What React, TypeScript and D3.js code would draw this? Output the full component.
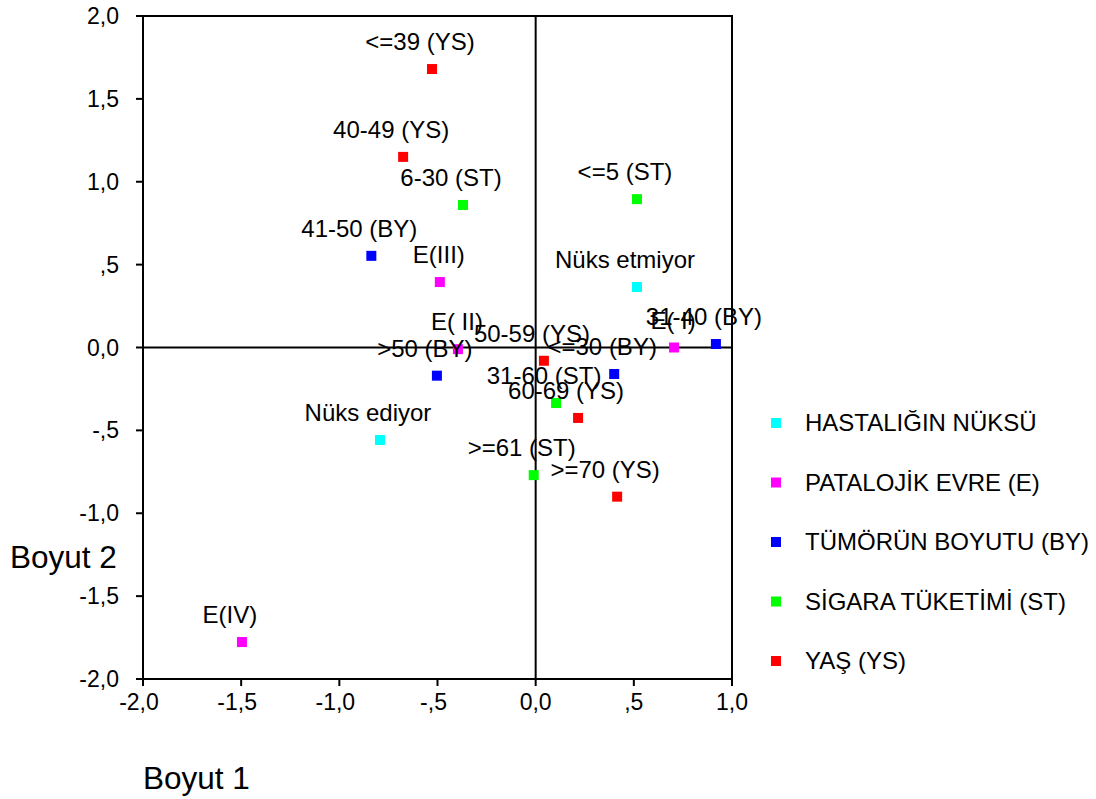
import { useEffect, useRef } from 'react'
import * as d3 from 'd3'

// gruplar (lejant)
const groups = ['HASTALIĞIN NÜKSÜ', 'PATALOJİK EVRE (E)', 'TÜMÖRÜN BOYUTU (BY)', 'SİGARA TÜKETİMİ (ST)', 'YAŞ (YS)']
const groupColors = ['#00ffff', '#ff00ff', '#0000ff', '#00ff00', '#ff0000']

// noktalar
const pointLabels = [
  'Nüks etmiyor', 'Nüks ediyor',
  'E( I)', 'E( II)', 'E(III)', 'E(IV)',
  '31-40 (BY)', '41-50 (BY)', '>50 (BY)', '<=30 (BY)',
  '<=5 (ST)', '6-30 (ST)', '31-60 (ST)', '>=61 (ST)',
  '<=39 (YS)', '40-49 (YS)', '50-59 (YS)', '60-69 (YS)', '>=70 (YS)'
]
const pointGroup = [0, 0, 1, 1, 1, 1, 2, 2, 2, 2, 3, 3, 3, 3, 4, 4, 4, 4, 4]
const dim1 = [0.516, -0.793, 0.705, -0.396, -0.488, -1.496, 0.918, -0.837, -0.503, 0.40, 0.516, -0.37, 0.104, -0.01, -0.528, -0.675, 0.042, 0.216, 0.415]
const dim2 = [0.365, -0.558, 0.0, -0.01, 0.395, -1.777, 0.021, 0.553, -0.17, -0.16, 0.895, 0.86, -0.335, -0.77, 1.68, 1.15, -0.08, -0.425, -0.90]

const xTicks = [-2, -1.5, -1, -0.5, 0, 0.5, 1]
const yTicks = [-2, -1.5, -1, -0.5, 0, 0.5, 1, 1.5, 2]

// SPSS tarzı etiket: 0,5 -> ",5"
const fmt = (v: number) => {
  const s = Math.abs(v).toFixed(1).replace('.', ',')
  const t = Math.abs(v) < 1 && v !== 0 ? s.slice(1) : s
  return v < 0 ? '-' + t : t
}

// kısa evre etiketleri noktanın tam üstünde duruyor
const centeredLabels = ['E( I)', 'E( II)', 'E(III)']

export default function App() {
  const ref = useRef<SVGSVGElement>(null)

  useEffect(() => {
    const width = 1096
    const height = 799
    const plot = { left: 143, right: 732, top: 16, bottom: 679 }
    const font = 'Liberation Sans, Arial, sans-serif'

    const svg = d3.select(ref.current)
    svg.selectAll('*').remove()
    svg.attr('width', width).attr('height', height)
      .attr('font-family', font)

    const x = d3.scaleLinear().domain([-2, 1]).range([plot.left, plot.right])
    const y = d3.scaleLinear().domain([-2, 2]).range([plot.bottom, plot.top])

    // çerçeve
    svg.append('rect')
      .attr('x', plot.left).attr('y', plot.top)
      .attr('width', plot.right - plot.left).attr('height', plot.bottom - plot.top)
      .attr('fill', 'none').attr('stroke', '#000').attr('stroke-width', 2)

    // sıfır çizgileri
    svg.append('line')
      .attr('x1', x(0)).attr('x2', x(0)).attr('y1', plot.top).attr('y2', plot.bottom)
      .attr('stroke', '#000').attr('stroke-width', 2)
    svg.append('line')
      .attr('x1', plot.left).attr('x2', plot.right).attr('y1', y(0)).attr('y2', y(0))
      .attr('stroke', '#000').attr('stroke-width', 2)

    // x ekseni
    const xAxis = svg.append('g')
    xAxis.selectAll('line').data(xTicks).join('line')
      .attr('x1', d => x(d)).attr('x2', d => x(d))
      .attr('y1', plot.bottom).attr('y2', plot.bottom + 7)
      .attr('stroke', '#000').attr('stroke-width', 2)
    xAxis.selectAll('text').data(xTicks).join('text')
      .attr('x', d => x(d) - (d < 0 ? 4 : 0)).attr('y', plot.bottom + 31)
      .attr('text-anchor', 'middle').attr('font-size', 23)
      .text(d => fmt(d))

    // y ekseni
    const yAxis = svg.append('g')
    yAxis.selectAll('line').data(yTicks).join('line')
      .attr('x1', plot.left - 7).attr('x2', plot.left)
      .attr('y1', d => y(d)).attr('y2', d => y(d))
      .attr('stroke', '#000').attr('stroke-width', 2)
    yAxis.selectAll('text').data(yTicks).join('text')
      .attr('x', plot.left - 24).attr('y', d => y(d))
      .attr('dy', '0.35em')
      .attr('text-anchor', 'end').attr('font-size', 23)
      .text(d => fmt(d))

    // eksen başlıkları
    svg.append('text').attr('x', 143).attr('y', 789)
      .attr('font-size', 31.5).text('Boyut 1')
    svg.append('text').attr('x', 10).attr('y', 568)
      .attr('font-size', 31.5).text('Boyut 2')

    // noktalar
    const idx = d3.range(pointLabels.length)
    svg.append('g').selectAll('rect').data(idx).join('rect')
      .attr('x', i => x(dim1[i]) - 5).attr('y', i => y(dim2[i]) - 5)
      .attr('width', 10).attr('height', 10)
      .attr('fill', i => groupColors[pointGroup[i]])

    svg.append('g').selectAll('text').data(idx).join('text')
      .attr('x', i => x(dim1[i]) - (centeredLabels.includes(pointLabels[i]) ? 1 : 12))
      .attr('y', i => y(dim2[i]) - 19)
      .attr('text-anchor', 'middle').attr('font-size', 24)
      .text(i => pointLabels[i])

    // lejant
    const legend = svg.append('g').attr('transform', 'translate(771,423)')
    const row = legend.selectAll('g').data(groups).join('g')
      .attr('transform', (_, i) => `translate(0,${i * 59.5})`)
    row.append('rect').attr('x', 0).attr('y', -5).attr('width', 10).attr('height', 10)
      .attr('fill', (_, i) => groupColors[i])
    row.append('text').attr('x', 34).attr('dy', '0.35em')
      .attr('font-size', 24).text(d => d)
  }, [])

  return <svg ref={ref} style={{ position: 'absolute', left: 0, top: 0 }} />
}
